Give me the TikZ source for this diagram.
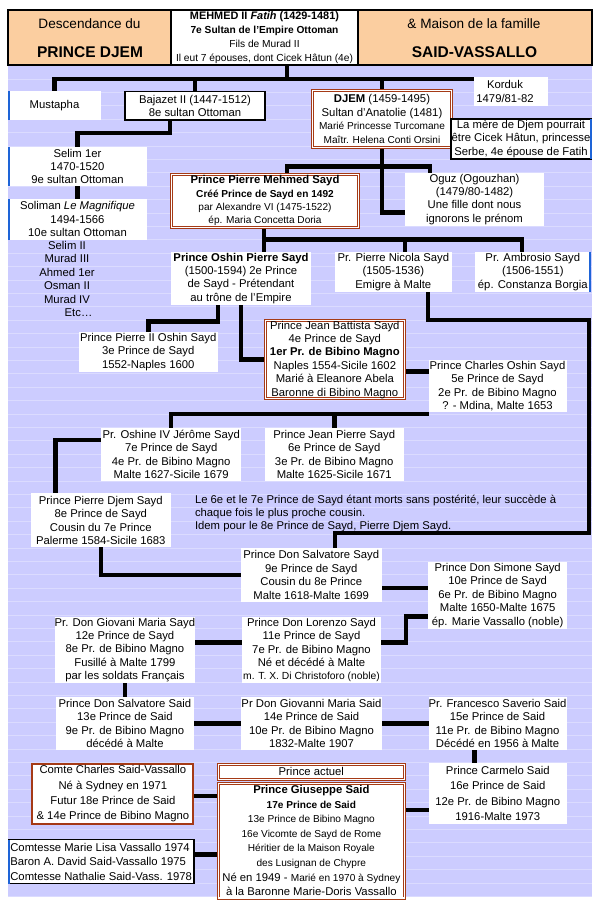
\documentclass[tikz,border=0pt]{standalone}
\usepackage{fontspec}
\setmainfont{Liberation Sans}
\usetikzlibrary{calc}
\definecolor{lav}{RGB}{204,204,255}
\definecolor{gridc}{RGB}{219,219,255}
\definecolor{peach}{RGB}{251,206,160}
\definecolor{brn}{RGB}{165,58,22}
\definecolor{edgeblue}{RGB}{30,100,215}
\pgfdeclarelayer{bg}\pgfdeclarelayer{ln}\pgfsetlayers{bg,ln,main}
\newcommand\fA{\fontsize{11.3}{13.4}\selectfont}
\newcommand\fS{\fontsize{10.1}{13.4}\selectfont}
\newcommand\bx[7]{\node[#6, minimum width={(#4)-(#2)}, minimum height={(#5)-(#3)}] (#1) at ({((#2)+(#4))/2},{((#3)+(#5))/2}) {#7};}
\begin{document}
\begin{tikzpicture}[x=1pt,y=-1pt,
  box/.style={fill=white, inner sep=0pt, outer sep=0pt, align=center, font=\fA},
  blk/.style={box, draw=black, line width=1.5pt},
  dbl/.style={box, draw=brn, line width=0.9pt, double=white, double distance=1.2pt},
  brnbox/.style={box, draw=brn, line width=2pt},
  conn/.style={line width=4.5pt, line join=miter},
  bedge/.style={edgeblue, line width=1.6pt},
  hcell/.style={draw=black, line width=1.8pt, inner sep=0pt, outer sep=0pt, minimum height=55pt},
  txt/.style={inner sep=0pt, outer sep=0pt, align=center, font=\fA}]
\useasboundingbox (0,0) rectangle (600,910);
\begin{pgfonlayer}{bg}
\fill[lav] (8,65) rectangle (592,897);
\foreach \k in {1,...,62} \draw[gridc, line width=0.7pt] (8,{65.5+13.4*\k}) -- (592,{65.5+13.4*\k});
\end{pgfonlayer}
% header
\node[hcell, fill=peach, minimum width=163pt] (hl) at (89.5,37.5) {};
\node[hcell, fill=peach, minimum width=234pt] (hr) at (475,37.5) {};
\node[hcell, fill=white, minimum width=187pt, align=center, font=\fontsize{10.2}{13.9}\selectfont] (hm) at (264.5,37.5)
 {{\fontsize{10.9}{13.9}\selectfont\bfseries MEHMED II \textit{Fatih} (1429-1481)}\\\textbf{7e Sultan de l'Empire Ottoman}\\Fils de Murad II\\Il eut 7 épouses, dont Cicek Hâtun (4e)};
\node[txt, font=\fontsize{13.6}{16}\selectfont] (hlt1) at (89.5,24) {Descendance du};
\node[txt, font=\fontsize{15.5}{18}\selectfont\bfseries] (hlt2) at (90,52.5) {PRINCE DJEM};
\node[txt, font=\fontsize{13.6}{16}\selectfont] (hrt1) at (474,24) {\& Maison de la famille};
\node[txt, font=\fontsize{15.5}{18}\selectfont\bfseries] (hrt2) at (474.5,52.5) {SAID-VASSALLO};
% boxes
\bx{must}{8}{91}{101}{119.5}{box}{Mustapha}
\bx{baja}{125}{91.5}{265}{120}{blk}{Bajazet II (1447-1512)\\8e sultan Ottoman}
\bx{kord}{474}{77}{548}{106}{box}{\hspace*{-12pt}Korduk\\\hspace*{-12pt}1479/81-82}
\bx{djem}{312.5}{90.5}{451.5}{147.5}{dbl, font=\fontsize{11.3}{13.5}\selectfont}{\textbf{DJEM} (1459-1495)\\Sultan d'Anatolie (1481)\\{\fS Marié Princesse Turcomane}\\{\fS Maîtr. Helena Conti Orsini}}
\bx{note}{451}{119}{591}{159}{blk, line width=1.2pt}{La mère de Djem pourrait\\être Cicek Hâtun, princesse\\Serbe, 4e épouse de Fatih}
\bx{selim}{8}{147}{147}{186}{box}{Selim 1er\\1470-1520\\9e sultan Ottoman}
\bx{soli}{8}{199}{147}{239.5}{box}{Soliman \textit{Le Magnifique}\\1494-1566\\10e sultan Ottoman}
\node[txt] (sult) at (67,279) {Selim II\\Murad III\\Ahmed 1er\\Osman II\\Murad IV\\\hspace*{23pt}Etc…};
\bx{pmeh}{171.5}{174.2}{358.5}{227.5}{dbl}{\textbf{Prince Pierre Mehmed Sayd}\\{\fS\bfseries Créé Prince de Sayd en 1492}\\{\fS par Alexandre VI (1475-1522)}\\{\fS ép. Maria Concetta Doria}}
\bx{oguz}{405}{172.7}{544}{226}{box}{Oguz (Ogouzhan)\\(1479/80-1482)\\Une fille dont nous\\ignorons le prénom}
\bx{oshin}{171}{251.7}{311}{305}{box}{\textbf{Prince Oshin Pierre Sayd}\\(1500-1594) 2e Prince\\de Sayd - Prétendant\\au trône de l'Empire}
\bx{nicola}{335}{251.7}{451.6}{291.7}{box}{Pr. Pierre Nicola Sayd\\(1505-1536)\\Emigre à Malte}
\bx{ambro}{474.6}{251.7}{591}{291.7}{box}{Pr. Ambrosio Sayd\\(1506-1551)\\ép. Constanza Borgia}
\bx{pier2}{78.5}{331.7}{218}{371.7}{box}{Prince Pierre II Oshin Sayd\\3e Prince de Sayd\\1552-Naples 1600}
\bx{jeanb}{265.5}{320.8}{404.2}{398.5}{dbl}{Prince Jean Battista Sayd\\4e Prince de Sayd\\\textbf{1er Pr. de Bibino Magno}\\Naples 1554-Sicile 1602\\Marié à Eleanore Abela\\Baronne di Bibino Magno}
\bx{charl}{428.5}{360}{566.5}{412}{box}{Prince Charles Oshin Sayd\\5e Prince de Sayd\\2e Pr. de Bibino Magno\\? - Mdina, Malte 1653}
\bx{oshine}{101.4}{427.7}{241}{481}{box}{Pr. Oshine IV Jérôme Sayd\\7e Prince de Sayd\\4e Pr. de Bibino Magno\\Malte 1627-Sicile 1679}
\bx{jeanp}{264.8}{427.7}{403.7}{481}{box}{Prince Jean Pierre Sayd\\6e Prince de Sayd\\3e Pr. de Bibino Magno\\Malte 1625-Sicile 1671}
\bx{pdjem}{30.6}{493.3}{171}{547.3}{box}{Prince Pierre Djem Sayd\\8e Prince de Sayd\\Cousin du 7e Prince\\Palerme 1584-Sicile 1683}
\node[txt, align=left, anchor=west] (rmk) at (195,513.5) {Le 6e et le 7e Prince de Sayd étant morts sans postérité, leur succède à\\chaque fois le plus proche cousin.\\Idem pour le 8e Prince de Sayd, Pierre Djem Sayd.};
\bx{salv9}{241}{548.3}{381.5}{601.7}{box}{Prince Don Salvatore Sayd\\9e Prince de Sayd\\Cousin du 8e Prince\\Malte 1618-Malte 1699}
\bx{simone}{428.3}{561.7}{567}{629}{box}{Prince Don Simone Sayd\\10e Prince de Sayd\\6e Pr. de Bibino Magno\\Malte 1650-Malte 1675\\ép. Marie Vassallo (noble)}
\bx{giov12}{55.5}{616.7}{194.4}{683.3}{box}{Pr. Don Giovani Maria Sayd\\12e Prince de Sayd\\8e Pr. de Bibino Magno\\Fusillé à Malte 1799\\par les soldats Français}
\bx{loren}{242}{616.7}{381}{683.3}{box}{Prince Don Lorenzo Sayd\\11e Prince de Sayd\\7e Pr. de Bibino Magno\\Né et décédé à Malte\\{\fontsize{10.3}{13.4}\selectfont m. T. X. Di Christoforo (noble)}}
\bx{salv13}{55.5}{696.7}{194.4}{750}{box}{Prince Don Salvatore Said\\13e Prince de Said\\9e Pr. de Bibino Magno\\décédé à Malte}
\bx{giov14}{242}{696.7}{381}{750}{box}{Pr Don Giovanni Maria Said\\14e Prince de Said\\10e Pr. de Bibino Magno\\1832-Malte 1907}
\bx{franc}{428.6}{696.7}{566.5}{750}{box}{Pr. Francesco Saverio Said\\15e Prince de Said\\11e Pr. de Bibino Magno\\Décédé en 1956 à Malte}
\bx{comte}{32.4}{763.7}{193.4}{824}{brnbox, font=\fontsize{11.3}{15.3}\selectfont}{Comte Charles Said-Vassallo\\Né à Sydney en 1971\\Futur 18e Prince de Said\\\& 14e Prince de Bibino Magno}
\bx{actuel}{218.5}{764.2}{404.2}{779.2}{dbl}{Prince actuel}
\bx{gius}{218.5}{783.2}{404.2}{898}{dbl, font=\fontsize{11.3}{14.6}\selectfont}{\textbf{Prince Giuseppe Said}\\{\fontsize{10.1}{14.6}\selectfont\bfseries 17e Prince de Said}\\{\fS 13e Prince de Bibino Magno}\\{\fS 16e Vicomte de Sayd de Rome}\\{\fS Héritier de la Maison Royale}\\{\fS des Lusignan de Chypre}\\Né en 1949 - {\fS Marié en 1970 à Sydney}\\à la Baronne Marie-Doris Vassallo}
\bx{carm}{428.6}{762.7}{567}{824}{box, font=\fontsize{11.3}{15.3}\selectfont}{Prince Carmelo Said\\16e Prince de Said\\12e Pr. de Bibino Magno\\1916-Malte 1973}
\bx{comtes}{8.5}{839.8}{193.9}{883.5}{blk, align=left, line width=1.3pt, font=\fontsize{11.3}{14.6}\selectfont}{Comtesse Marie Lisa Vassallo 1974\\Baron A. David Said-Vassallo 1975\\Comtesse Nathalie Said-Vass. 1978}
% blue edges
\draw[bedge] ([xshift=0.8pt]must.north west) -- ([xshift=0.8pt]must.south west);
\draw[bedge] ([xshift=0.8pt]selim.north west) -- ([xshift=0.8pt]selim.south west);
\draw[bedge] ([xshift=0.8pt]soli.north west) -- ([xshift=0.8pt]soli.south west);
\draw[bedge] ([xshift=0.2pt]comtes.north west) -- ([xshift=0.2pt]comtes.south west);
\draw[bedge] ([xshift=-0.2pt]note.north east) -- ([xshift=-0.2pt]note.south east);
\draw[bedge] ([xshift=-0.8pt]ambro.north east) -- ([xshift=-0.8pt]ambro.south east);
% connectors
\begin{pgfonlayer}{ln}
\coordinate (j1) at (287,79);
\draw[conn] (hm.south -| j1) -- (j1);
\draw[conn] (must.north) |- (kord.west |- j1);
\draw[conn] (baja.north) -- (baja.north |- j1);
\draw[conn] (djem.north) -- (djem.north |- j1);
\coordinate (j2) at (170,133);
\draw[conn] (baja.south -| j2) -- (j2) -| (selim.north);
\draw[conn] (selim.south) -- (soli.north);
\coordinate (j3a) at (287,166.7);
\coordinate (j3b) at (430,166.7);
\draw[conn] (pmeh.north -| j3a) -- (j3a) -- (j3b) -- (oguz.north -| j3b);
\coordinate (j4) at (382,212.7);
\draw[conn] (djem.south) |- (oguz.west |- j4);
\coordinate (j5) at (264,239.3);
\coordinate (j5m) at (405,239.3);
\coordinate (j5r) at (522,239.3);
\draw[conn] (pmeh.south -| j5) -- (oshin.north -| j5);
\draw[conn] (j5) -- (j5r) -- (ambro.north -| j5r);
\draw[conn] (j5m) -- (nicola.north -| j5m);
\coordinate (j6) at (218,321.7);
\draw[conn] (oshin.south -| j6) -- (j6) -| (pier2.north);
\draw[conn] (oshin.south) |- (jeanb.west);
\coordinate (j8) at (417,371.7);
\draw[conn] (jeanb.east |- j8) -- (charl.west |- j8);
\coordinate (n1) at (428,320);
\coordinate (n2) at (589,320);
\coordinate (n3) at (589,533);
\coordinate (n4) at (335,533);
\draw[conn] (nicola.south -| n1) -- (n1) -- (n2) -- (n3) -- (n4) -- (salv9.north -| n4);
\coordinate (j10) at (428.5,414);
\draw[conn] (j10) -| (oshine.north);
\draw[conn] (jeanp.north) -- (jeanp.north |- j10);
\coordinate (j11) at (55.5,440);
\draw[conn] (oshine.west |- j11) -- (j11) -- (pdjem.north -| j11);
\draw[conn] (pdjem.south) |- (salv9.west);
\coordinate (j13) at (400,588);
\draw[conn] (salv9.east |- j13) -- (simone.west |- j13);
\coordinate (j14) at (218,642.5);
\draw[conn] (giov12.east |- j14) -- (loren.west |- j14);
\coordinate (j15a) at (406,642.5);
\coordinate (j15b) at (406,616.5);
\draw[conn] (loren.east |- j15a) -- (j15a) -- (j15b) -- (simone.west |- j15b);
\draw[conn] (giov12.south) -- (salv13.north);
\draw[conn] (salv13.east) -- (giov14.west);
\draw[conn] (giov14.east) -- (franc.west);
\coordinate (j18) at (474.6,756);
\draw[conn] (franc.south -| j18) -- (carm.north -| j18);
\coordinate (j19) at (205,796);
\draw[conn] (comte.east |- j19) -- (gius.west |- j19);
\coordinate (j20) at (205,854.3);
\draw[conn] (comtes.east |- j20) -- (gius.west |- j20);
\coordinate (j21) at (417,810);
\draw[conn] (gius.east |- j21) -- (carm.west |- j21);
\end{pgfonlayer}
\end{tikzpicture}
\end{document}
